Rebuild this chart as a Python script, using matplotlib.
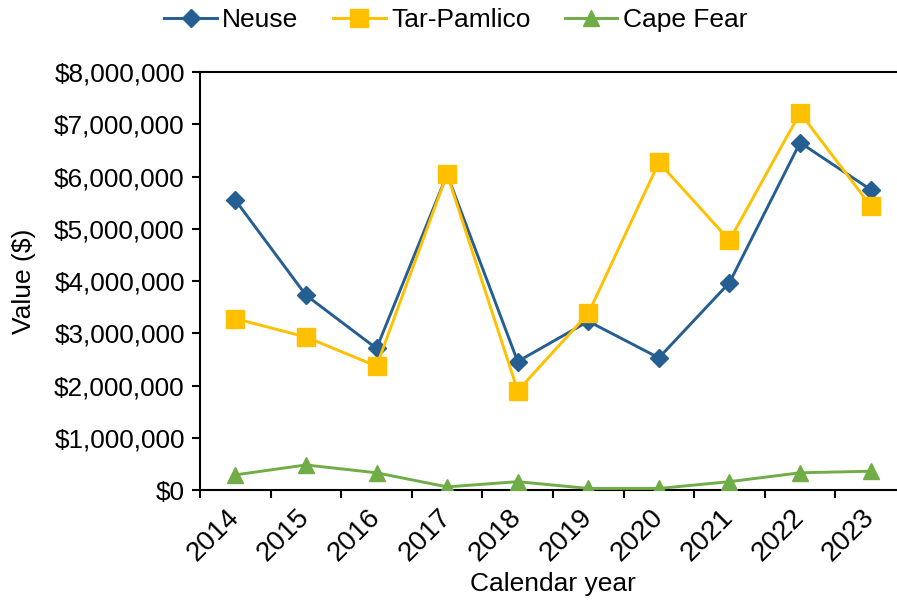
import numpy as np
import matplotlib
matplotlib.use('Agg')
import matplotlib.pyplot as plt
from matplotlib.ticker import FuncFormatter, FixedLocator

plt.rcParams['font.family'] = ['Liberation Sans', 'DejaVu Sans']

years = ['2014', '2015', '2016', '2017', '2018', '2019', '2020', '2021', '2022', '2023']
neuse = [5.55, 3.73, 2.71, 6.04, 2.46, 3.23, 2.53, 3.97, 6.65, 5.75]
tar_pamlico = [3.28, 2.93, 2.37, 6.05, 1.90, 3.38, 6.27, 4.78, 7.22, 5.44]
cape_fear = [0.29, 0.48, 0.33, 0.06, 0.16, 0.03, 0.03, 0.16, 0.33, 0.36]

scale = 1e6
x = np.arange(len(years))

fig = plt.figure(figsize=(8.97, 6.11), dpi=100)
# plot area runs a little past the right edge, as in the cropped original
ax = fig.add_axes([0.223, 0.198, 0.787, 0.684])

ax.plot(x, np.array(neuse) * scale, color='#255E91', lw=2.1, marker='D', ms=9.5,
        label='Neuse', zorder=3)
ax.plot(x, np.array(tar_pamlico) * scale, color='#FFC000', lw=2.1, marker='s', ms=13,
        label='Tar-Pamlico', zorder=3)
ax.plot(x, np.array(cape_fear) * scale, color='#70AD47', lw=2.1, marker='^', ms=12,
        label='Cape Fear', zorder=3)

ax.set_xlim(-0.5, len(years) - 0.5)
ax.set_ylim(0, 8e6)
ax.set_yticks(np.arange(0, 8.01e6, 1e6))
ax.yaxis.set_major_formatter(FuncFormatter(lambda v, p: '${:,.0f}'.format(v)))

# tick marks between categories, labels at category centres
ax.set_xticks(x)
ax.set_xticklabels(years, rotation=45, ha='right', va='center', rotation_mode='anchor')
ax.xaxis.set_minor_locator(FixedLocator(np.arange(-0.5, len(years), 1.0)))
ax.tick_params(axis='x', which='major', length=0, pad=17, labelsize=20)
ax.tick_params(axis='x', which='minor', length=6, width=1.5, direction='out')
ax.tick_params(axis='y', length=6, width=1.5, labelsize=18.8, pad=5)

for s in ax.spines.values():
    s.set_linewidth(1.5)

ax.set_ylabel('Value ($)', fontsize=19, labelpad=13)
ax.set_xlabel('Calendar year', fontsize=19, labelpad=4)

fig.legend(loc='upper center', bbox_to_anchor=(0.508, 1.025), ncol=3, frameon=False,
           fontsize=19, handlelength=2.0, columnspacing=1.3, handletextpad=0.2)

fig.savefig('out.png', dpi=100)
